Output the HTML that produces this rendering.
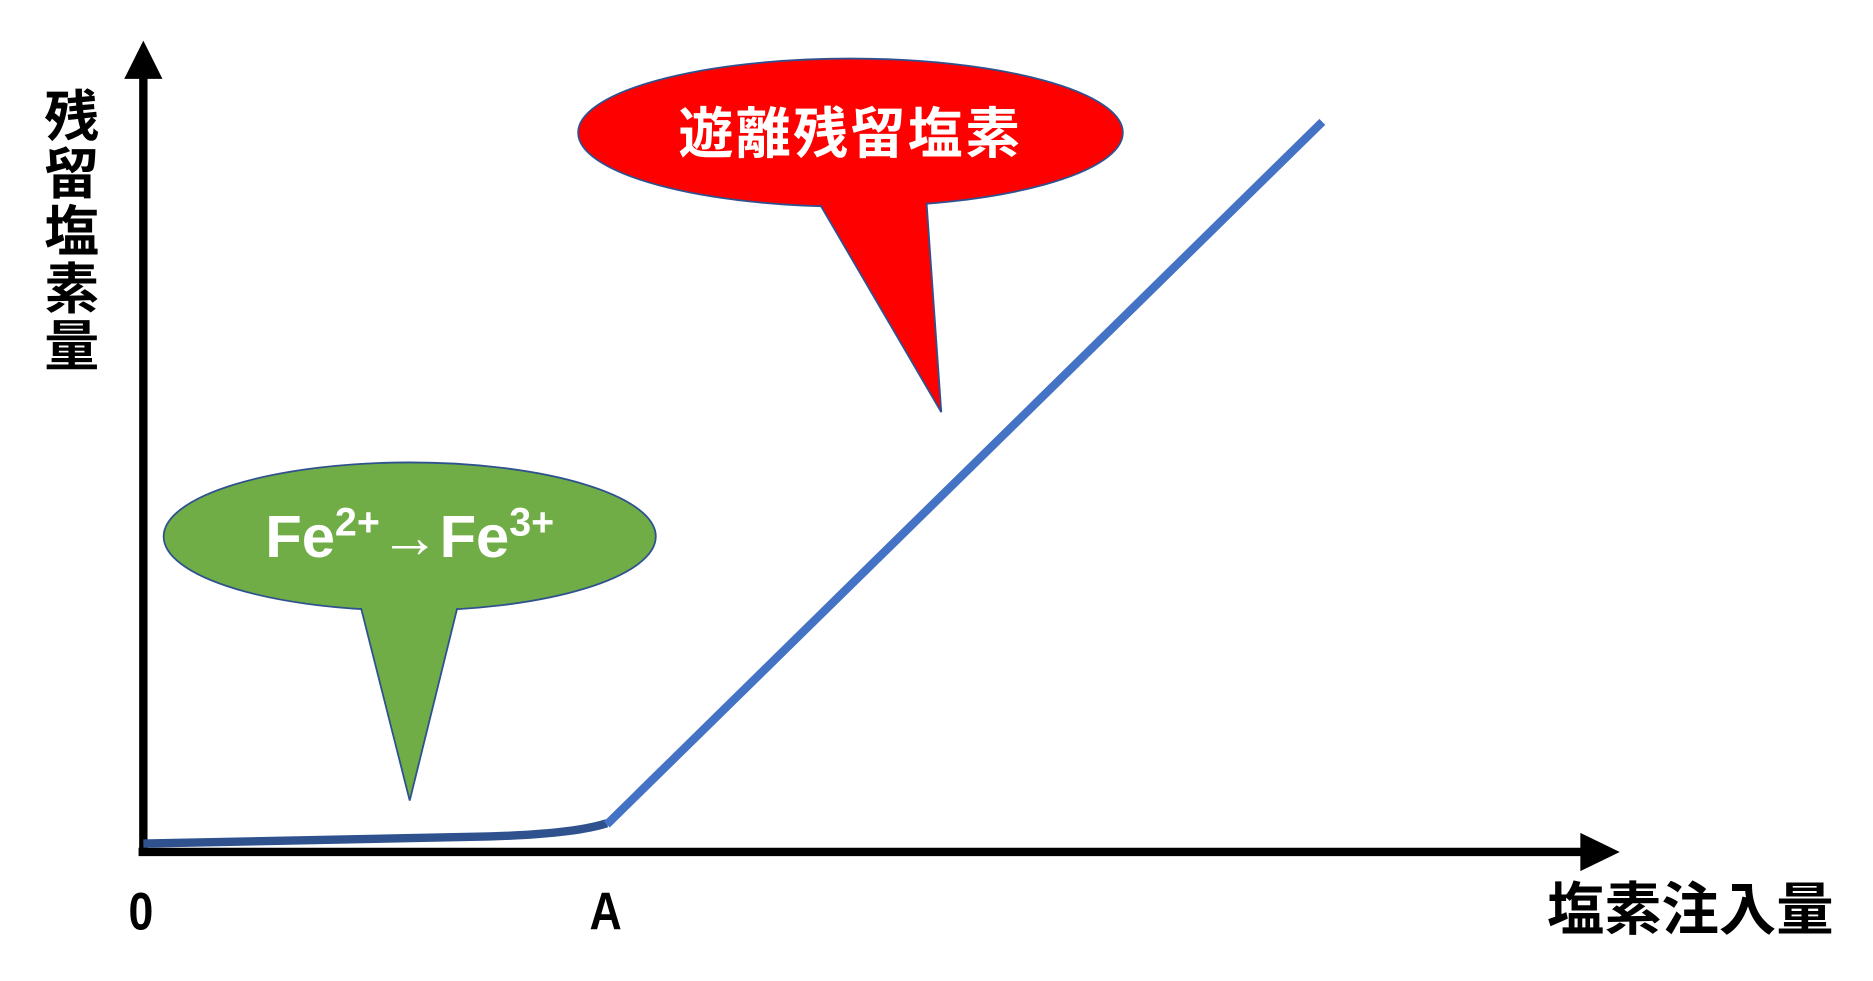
<!DOCTYPE html>
<html><head><meta charset="utf-8"><style>html,body{margin:0;padding:0;background:#fff;overflow:hidden}svg{display:block}</style></head>
<body>
<svg width="1873" height="981" viewBox="0 0 1568 821" preserveAspectRatio="none" xmlns="http://www.w3.org/2000/svg">
<g font-family="'Liberation Sans','Noto Sans CJK JP',sans-serif" font-weight="bold">
<!-- axes -->
<line x1="120" y1="60" x2="120" y2="716" stroke="#000" stroke-width="7"/>
<polygon points="120,34 104,66 136,66" fill="#000"/>
<line x1="116" y1="713" x2="1330" y2="713" stroke="#000" stroke-width="7"/>
<polygon points="1356,713 1323,697 1323,729" fill="#000"/>
<!-- curves -->
<path d="M120,706 L410,700 Q480,698 508,689" fill="none" stroke="#2f528f" stroke-width="7"/>
<line x1="508" y1="690" x2="1107" y2="102" stroke="#4472c4" stroke-width="7"/>
<!-- red callout -->
<ellipse cx="712" cy="111" rx="228" ry="62" fill="#ff0000" stroke="#2f528f" stroke-width="1.5"/>
<polygon points="680,160 788,345 775,160" fill="#ff0000" stroke="#2f528f" stroke-width="1.5"/>
<ellipse cx="712" cy="111" rx="227" ry="61" fill="#ff0000"/>
<text x="712" y="128" font-size="46" fill="#fff" text-anchor="middle" letter-spacing="2">遊離残留塩素</text>
<!-- green callout -->
<ellipse cx="343" cy="449" rx="206" ry="62" fill="#70ad47" stroke="#2f528f" stroke-width="1.5"/>
<polygon points="300,500 343,670 385,500" fill="#70ad47" stroke="#2f528f" stroke-width="1.5"/>
<ellipse cx="343" cy="449" rx="205" ry="61" fill="#70ad47"/>
<text x="343" y="466" font-size="50" fill="#fff" text-anchor="middle">Fe<tspan font-size="33" dy="-18">2+</tspan><tspan dy="18" font-weight="normal">→</tspan><tspan>Fe</tspan><tspan font-size="33" dy="-18">3+</tspan></text>
<!-- labels -->
<text x="118" y="778" font-size="44" text-anchor="middle" fill="#000" transform="translate(118 0) scale(0.85 1) translate(-118 0)">0</text>
<text x="507" y="778" font-size="44" text-anchor="middle" fill="#000" transform="translate(507 0) scale(0.85 1) translate(-507 0)">A</text>
<text x="1535" y="778" font-size="48" text-anchor="end" fill="#000">塩素注入量</text>
<g font-size="46" text-anchor="middle" fill="#000">
<text x="60" y="114">残</text>
<text x="60" y="162">留</text>
<text x="60" y="210">塩</text>
<text x="60" y="258">素</text>
<text x="60" y="306">量</text>
</g>
</g>
</svg>
</body></html>
